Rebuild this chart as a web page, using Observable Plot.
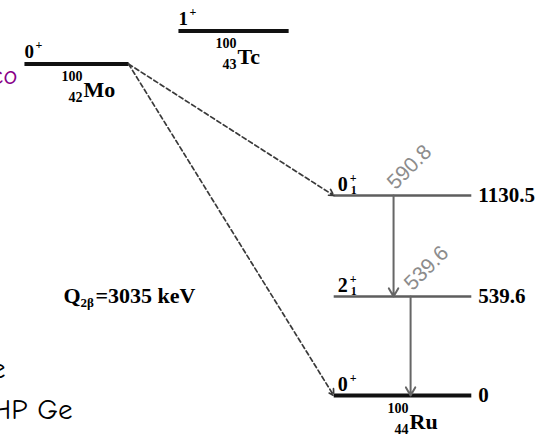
<!DOCTYPE html>
<html><head><meta charset="utf-8">
<script src="https://cdn.jsdelivr.net/npm/d3@7"></script>
<script src="https://cdn.jsdelivr.net/npm/@observablehq/plot@0.6"></script>
<style>html,body{margin:0;padding:0;background:#fff;overflow:hidden}</style>
</head><body><div id="chart"></div>
<script>
// ---------- data ----------
const nuclideSymbol = ["Mo", "Tc", "Ru"];
const nuclideZ = [42, 43, 44];
const massNumber = "100";

// nuclear levels (energies in keV relative to the 100Ru ground state)
const levelNuclide = ["Mo", "Tc", "Ru", "Ru", "Ru"];
const levelEnergy = [3035, 3203, 0, 539.6, 1130.5];
const levelSpin = ["0", "1", "0", "2", "0"];
const levelParity = ["+", "+", "+", "+", "+"];
const levelIndex = ["", "", "", "1", "1"];
const levelEnergyLabel = [null, null, "0", "539.6", "1130.5"];

// double-beta transitions from the 100Mo ground state
const bbFinalEnergy = [1130.5, 0];

// gamma transitions in 100Ru
const gammaFrom = [1130.5, 539.6];
const gammaTo = [539.6, 0];
const gammaLabel = ["590.8", "539.6"];

const qSymbol = "Q";
const qSub = "2β";
const qText = "=3035 keV";

// fragments of slide text cut by the picture's left edge
const slideFragments = ["co", "e", "HP Ge", "i"];

// ---------- layout ----------
const serif = "'Liberation Serif','Times New Roman',serif";
const sans = "'Liberation Sans',Arial,sans-serif";
const comic = "'Comic Sans MS','Comic Neue','DejaVu Sans',sans-serif";
const halfWidth = {Mo: 0.338, Tc: 0.338, Ru: 0.40};
const zOf = n => nuclideZ[nuclideSymbol.indexOf(n)];

const levels = levelNuclide.map((n, i) => ({
  nuclide: n, Z: zOf(n), E: levelEnergy[i], spin: levelSpin[i], parity: levelParity[i],
  index: levelIndex[i], label: levelEnergyLabel[i],
  x1: zOf(n) - halfWidth[n], x2: zOf(n) + halfWidth[n]
}));
const parentLevels = levels.filter(d => d.nuclide !== "Ru");
const ruLevels = levels.filter(d => d.nuclide === "Ru");
const thickLevels = levels.filter(d => d.nuclide !== "Ru" || d.E === 0);
const thinLevels = levels.filter(d => d.nuclide === "Ru" && d.E !== 0);
const mo = levels[0];
const ruLeft = zOf("Ru") - halfWidth.Ru;
const gammaOffset = [-0.052, 0.047];
const gammas = gammaFrom.map((f, i) => ({from: f, to: gammaTo[i], label: gammaLabel[i], x: zOf("Ru") + gammaOffset[i]}));
const nuclei = nuclideSymbol.map((s, i) => ({symbol: s, Z: nuclideZ[i], E: levels.find(d => d.nuclide === s).E}));

const txt = (data, o) => Plot.text(data, {fontFamily: serif, fontWeight: "bold", fill: "black", ...o});

const chart = Plot.plot({
  width: 541, height: 434,
  marginTop: 0, marginRight: 0, marginBottom: 0, marginLeft: 0,
  x: {type: "linear", domain: [42, 43, 44], range: [76, 230, 402], axis: null},
  y: {type: "linear", domain: [0, 539.6, 1130.5, 3035, 3203], range: [395, 296, 195, 63.5, 30.5], axis: null},
  style: {background: "white", overflow: "hidden"},
  marks: [
    // levels
    Plot.link(thinLevels, {x1: "x1", x2: "x2", y1: "E", y2: "E", stroke: "#5e5e5e", strokeWidth: 2.4}),
    Plot.link(thickLevels, {x1: "x1", x2: "x2", y1: "E", y2: "E", stroke: "#111", strokeWidth: 4}),
    // double beta decays
    Plot.arrow(bbFinalEnergy, {x1: () => mo.x2, y1: () => mo.E, x2: () => ruLeft, y2: d => d,
      stroke: "#3a3a3a", strokeWidth: 1.7, strokeDasharray: "4.5,3", headLength: 6}),
    // gammas
    Plot.arrow(gammas, {x1: "x", x2: "x", y1: "from", y2: "to", stroke: "#666", strokeWidth: 2, headLength: 7}),
    Plot.text(gammas, {x: "x", y: "from", text: "label", rotate: -45, textAnchor: "start", lineAnchor: "bottom",
      dx: 2, dy: -5, fontFamily: sans, fontSize: 21, fill: "#8c8c8c"}),
    // energy labels
    txt(ruLevels.filter(d => d.label), {x: "x2", y: "E", text: "label", textAnchor: "start", lineAnchor: "middle", dx: 7, fontSize: 21}),
    // spin-parity labels
    txt(parentLevels, {x: "x1", y: "E", text: "spin", textAnchor: "start", lineAnchor: "bottom", dy: -6, fontSize: 19}),
    txt(parentLevels, {x: "x1", y: "E", text: "parity", textAnchor: "start", lineAnchor: "bottom", dx: 11, dy: -15, fontSize: 12}),
    txt(ruLevels, {x: "x1", y: "E", text: "spin", textAnchor: "start", lineAnchor: "bottom", dx: 4, dy: -5, fontSize: 20}),
    txt(ruLevels, {x: "x1", y: "E", text: "parity", textAnchor: "start", lineAnchor: "bottom", dx: 16, dy: -14, fontSize: 12}),
    txt(ruLevels, {x: "x1", y: "E", text: "index", textAnchor: "start", lineAnchor: "bottom", dx: 17, dy: -2, fontSize: 12}),
    // nuclide labels
    txt(nuclei, {x: "Z", y: "E", text: () => massNumber, textAnchor: "start", lineAnchor: "bottom", dx: -15, dy: 17, fontSize: 14}),
    txt(nuclei, {x: "Z", y: "E", text: "Z", textAnchor: "end", lineAnchor: "bottom", dx: 6, dy: 38, fontSize: 14}),
    txt(nuclei, {x: "Z", y: "E", text: "symbol", textAnchor: "start", lineAnchor: "bottom", dx: 7, dy: 33, fontSize: 22}),
    // Q value
    txt([qSymbol], {x: () => zOf("Mo"), y: () => 539.6, text: d => d, textAnchor: "start", lineAnchor: "bottom", dx: -13, dy: 6, fontSize: 22}),
    txt([qSub], {x: () => zOf("Mo"), y: () => 539.6, text: d => d, textAnchor: "start", lineAnchor: "bottom", dx: 4, dy: 10, fontSize: 13}),
    txt([qText], {x: () => zOf("Mo"), y: () => 539.6, text: d => d, textAnchor: "start", lineAnchor: "bottom", dx: 19, dy: 6, fontSize: 22}),
    // slide fragments
    Plot.text([slideFragments[0]], {frameAnchor: "top-left", text: d => d, textAnchor: "end", lineAnchor: "bottom", dx: 17, dy: 83, fontFamily: comic, fontSize: 27, fill: "#880088"}),
    Plot.text([slideFragments[1]], {frameAnchor: "top-left", text: d => d, textAnchor: "end", lineAnchor: "bottom", dx: 5, dy: 377, fontFamily: comic, fontSize: 29, fill: "black"}),
    Plot.text([slideFragments[2]], {frameAnchor: "top-left", text: d => d, textAnchor: "end", lineAnchor: "bottom", dx: 72, dy: 418, fontFamily: comic, fontSize: 29, fill: "black"}),
    Plot.text([slideFragments[3]], {frameAnchor: "top-left", text: d => d, textAnchor: "middle", lineAnchor: "bottom", dx: 68, dy: 452, fontFamily: comic, fontSize: 29, fill: "black"})
  ]
});
document.getElementById("chart").appendChild(chart);
</script>
</body></html>
